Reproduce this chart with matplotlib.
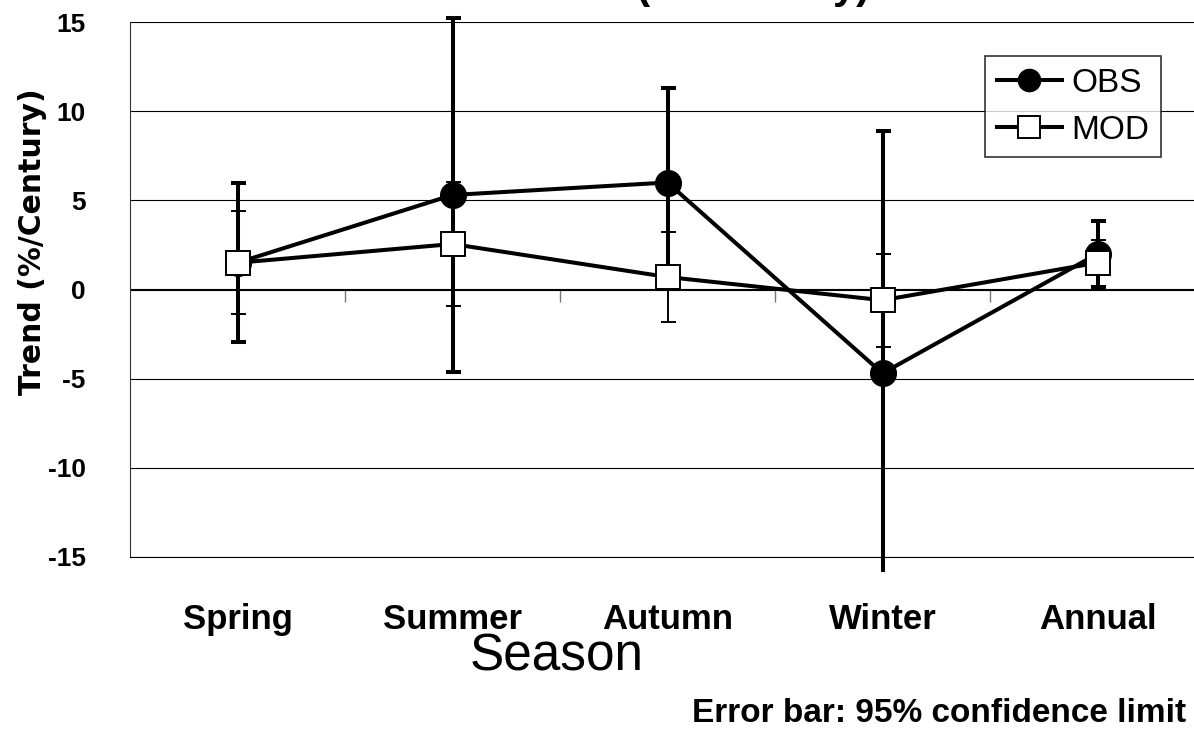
import matplotlib.pyplot as plt
import numpy as np
from matplotlib.transforms import Bbox, TransformedBbox
from matplotlib.lines import Line2D

seasons = ["Spring", "Summer", "Autumn", "Winter", "Annual"]
obs = [1.5, 5.3, 6.0, -4.7, 2.0]
obs_err = [4.45, 9.95, 5.3, 13.6, 1.85]
mod = [1.5, 2.55, 0.7, -0.6, 1.5]
mod_err = [2.9, 3.5, 2.55, 2.6, 1.3]
yticks = [-15, -10, -5, 0, 5, 10, 15]

BOLD = ["Liberation Sans", "DejaVu Sans"]
PLAIN = ["Liberation Sans", "DejaVu Sans"]

fig = plt.figure(figsize=(11.94, 7.33), dpi=100)
ax = fig.add_axes([130 / 1194, 176 / 733, 1075 / 1194, 535 / 733])
x = np.arange(len(seasons))

# error bars, clipped a little below the plot like the original
clip = TransformedBbox(Bbox([[0, -0.028], [1, 1.1]]), ax.transAxes)
eb1 = ax.errorbar(x, obs, yerr=obs_err, fmt="none", ecolor="black",
                  elinewidth=2.9, capsize=5.4, capthick=2.9, zorder=2)
eb2 = ax.errorbar(x, mod, yerr=mod_err, fmt="none", ecolor="black",
                  elinewidth=1.4, capsize=5.4, capthick=1.4, zorder=2.5)
for eb in (eb1, eb2):
    for art in list(eb.lines[1]) + list(eb.lines[2]):
        art.set_clip_box(clip)

ax.plot(x, obs, color="black", lw=2.9, zorder=3)
ax.plot(x, mod, color="black", lw=2.9, zorder=3)
ax.plot(x, obs, "o", color="black", ms=18.5, zorder=4)
ax.plot(x, mod, "s", mfc="white", mec="black", mew=1.4, ms=17.5, zorder=5)

ax.set_xlim(-0.5, 4.5)
ax.set_ylim(-15, 15)
ax.set_yticks(yticks)
ax.set_yticklabels([str(v) for v in yticks], family=BOLD, weight="bold", fontsize=19)
ax.tick_params(axis="y", length=0, pad=32)
ax.set_xticks(x)
ax.set_xticklabels(seasons, family=BOLD, weight="bold", fontsize=25)
ax.tick_params(axis="x", length=0, pad=33)
ax.yaxis.grid(True, color="black", lw=0.8)
ax.set_axisbelow(True)
for s in ["top", "right"]:
    ax.spines[s].set_visible(False)
ax.spines["left"].set_color("#333333")
ax.spines["bottom"].set_color("black")

# category-axis line at zero with boundary ticks
sec = ax.secondary_xaxis(0.5)
sec.set_xticks([0.5, 1.5, 2.5, 3.5])
sec.set_xticklabels([])
sec.tick_params(direction="in", length=9, color="#777777", width=1)
sec.spines["bottom"].set_color("black")
sec.spines["bottom"].set_linewidth(0.8)

ax.set_ylabel("Trend (%/Century)", family=["DejaVu Sans"], weight="bold",
              fontsize=21.5)
ax.yaxis.set_label_coords(-0.077, 0.59)

handles = [Line2D([], [], color="black", lw=2.9, marker="o", ms=16),
           Line2D([], [], color="black", lw=2.9, marker="s", mfc="white",
                  mec="black", mew=1.4, ms=15.5)]
leg = fig.legend(handles, ["OBS", "MOD"], loc="upper left",
                 bbox_to_anchor=(985 / 1194, 1 - 56 / 733),
                 prop={"family": PLAIN, "size": 24}, frameon=True,
                 fancybox=False, edgecolor="black", handlelength=1.95,
                 handletextpad=0.3, borderpad=0.35, labelspacing=0.48,
                 borderaxespad=0)
leg.get_frame().set_linewidth(1.2)

fig.text(557 / 1194, 1 - 657 / 733, "Season", family=PLAIN, fontsize=37,
         ha="center", va="center")
fig.text(1186 / 1194, 1 - 714 / 733, "Error bar: 95% confidence limit",
         family=BOLD, weight="bold", fontsize=24, ha="right", va="center")
# title cut off at the top edge in the original
fig.text(870 / 1194, 1 + 2 / 733, "Trend (%/Century)", family=BOLD,
         weight="bold", fontsize=30, ha="right", va="baseline")

fig.savefig("out.png", dpi=100)
